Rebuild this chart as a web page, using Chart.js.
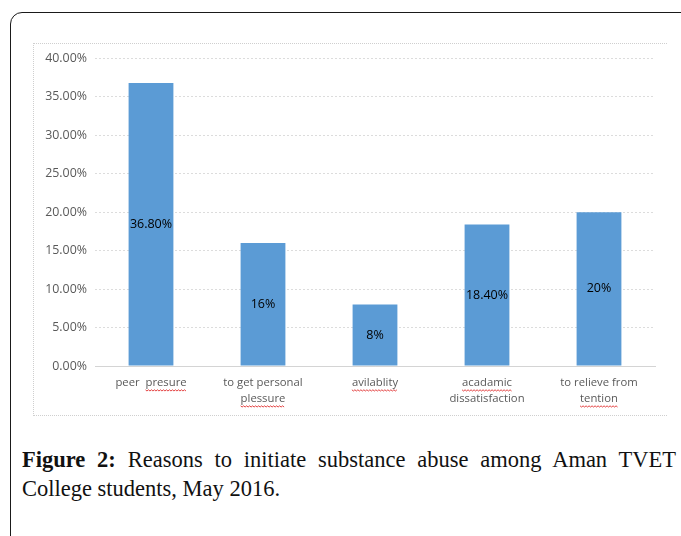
<!DOCTYPE html>
<html>
<head>
<meta charset="utf-8">
<script src="https://cdn.jsdelivr.net/npm/chart.js@4.4.0/dist/chart.umd.min.js"></script>
<style>
    body { margin: 0; background: #fff; width: 681px; height: 536px; overflow: hidden; position: relative; }
    #outer { position: absolute; left: 10px; top: 12px; width: 720px; height: 600px; border: 1.5px solid #1a1a1a; border-radius: 12px; }
    #frame { position: absolute; left: 33px; top: 43px; width: 633px; height: 371px; border-top: 1px dotted #cfcfcf; border-left: 1px dotted #cfcfcf; border-bottom: 1px dotted #cfcfcf; }
    #chart-box { position: absolute; left: 33px; top: 43px; width: 634px; height: 372px; }
    #caption { position: absolute; left: 22px; top: 445px; width: 654px; font-family: "Liberation Serif", "DejaVu Serif", serif; font-size: 22.5px; line-height: 29px; color: #111; }
    #caption .l1 { text-align: justify; text-align-last: justify; white-space: nowrap; }
    #caption b { font-weight: bold; }
</style>
</head>
<body>
<div id="outer"></div>
<div id="frame"></div>
<div id="chart-box"><canvas id="bar-js" width="634" height="372"></canvas></div>
<div id="caption">
    <div class="l1"><b>Figure 2:</b> Reasons to initiate substance abuse among Aman TVET</div>
    <div>College students, May 2016.</div>
</div>
<script>
const categories = [['peer  presure'], ['to get personal', 'plessure'], ['avilablity'], ['acadamic', 'dissatisfaction'], ['to relieve from', 'tention']];
const values = [36.8, 16, 8, 18.4, 20];
const valueLabels = ['36.80%', '16%', '8%', '18.40%', '20%'];
const yTicks = [0, 5, 10, 15, 20, 25, 30, 35, 40];
// words flagged by the spell checker: [category index, line index, word]
const misspelled = [[0, 0, 'presure'], [1, 1, 'plessure'], [2, 0, 'avilablity'], [3, 0, 'acadamic'], [4, 1, 'tention']];

const AXIS_FONT = { family: 'Open Sans', size: 11.3, lineHeight: 1.42 };

const valueLabelPlugin = {
    id: 'valueLabels',
    afterDatasetsDraw(chart) {
        const ctx = chart.ctx;
        const meta = chart.getDatasetMeta(0);
        ctx.save();
        ctx.font = '12.5px "Open Sans"';
        ctx.fillStyle = '#000';
        ctx.textAlign = 'center';
        ctx.textBaseline = 'middle';
        meta.data.forEach((bar, i) => {
            const mid = (bar.y + bar.base) / 2;
            ctx.fillText(valueLabels[i], bar.x, mid);
        });
        ctx.restore();
    }
};

const squigglePlugin = {
    id: 'squiggles',
    afterDraw(chart) {
        const ctx = chart.ctx;
        const xScale = chart.scales.x;
        const lineHeight = AXIS_FONT.size * AXIS_FONT.lineHeight;
        const firstLineY = xScale.top + 17;
        ctx.save();
        ctx.font = AXIS_FONT.size + 'px "' + AXIS_FONT.family + '"';
        ctx.strokeStyle = '#e03030';
        ctx.lineWidth = 0.9;
        misspelled.forEach(([ci, li, word]) => {
            const text = categories[ci][li];
            const lineW = ctx.measureText(text).width;
            const start = xScale.getPixelForValue(ci) - lineW / 2 + ctx.measureText(text.slice(0, text.indexOf(word))).width;
            const w = ctx.measureText(word).width;
            const y = firstLineY + li * lineHeight + 7;
            ctx.beginPath();
            for (let x = 0; x <= w; x += 1.5) {
                const yy = y + ((Math.round(x / 1.5) % 2) ? 1 : -0.2);
                if (x === 0) ctx.moveTo(start + x, yy); else ctx.lineTo(start + x, yy);
            }
            ctx.stroke();
        });
        ctx.restore();
    }
};

new Chart(document.getElementById('bar-js').getContext('2d'), {
    type: 'bar',
    data: {
        labels: categories,
        datasets: [{
            data: values,
            backgroundColor: '#5b9bd5',
            borderWidth: 0,
            barPercentage: 0.4,
            categoryPercentage: 1
        }]
    },
    options: {
        responsive: false,
        animation: false,
        layout: { padding: { left: 0, right: 12, top: 15, bottom: 0 } },
        plugins: {
            legend: { display: false },
            tooltip: { enabled: false }
        },
        scales: {
            x: {
                grid: { display: false, drawTicks: false },
                border: { display: true, color: '#d4d4d4', width: 1 },
                ticks: { color: '#595959', font: AXIS_FONT, padding: 9, maxRotation: 0, autoSkip: false },
                afterFit: (scale) => { scale.height = 49; }
            },
            y: {
                min: 0,
                max: 40,
                afterBuildTicks: (scale) => { scale.ticks = yTicks.map(v => ({ value: v })); },
                grid: { color: '#dcdcdc', drawTicks: false, lineWidth: 1 },
                border: { display: false, dash: [2, 2] },
                ticks: {
                    color: '#595959',
                    font: { family: 'Open Sans', size: 12.4 },
                    padding: 8,
                    callback: (v) => v.toFixed(2) + '%'
                },
                afterFit: (scale) => { scale.width = 62; }
            }
        }
    },
    plugins: [valueLabelPlugin, squigglePlugin]
});
</script>
</body>
</html>
